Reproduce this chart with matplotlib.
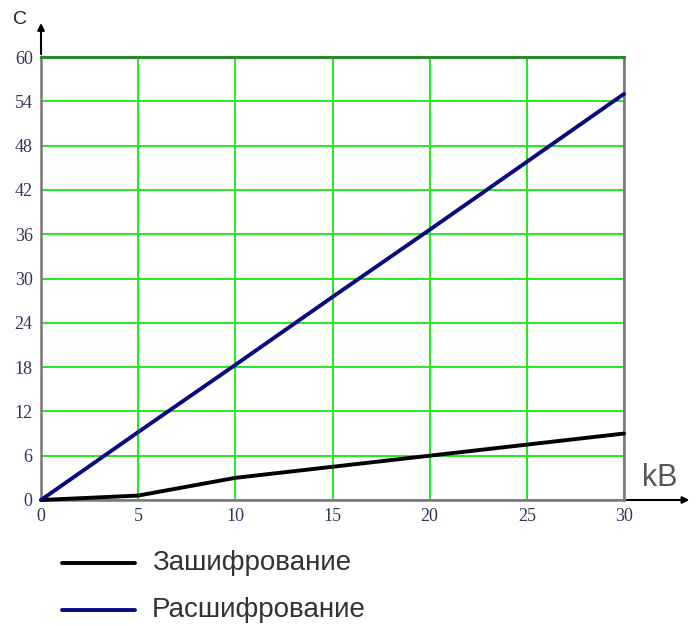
import matplotlib
matplotlib.use("Agg")
import matplotlib.pyplot as plt
from matplotlib.lines import Line2D

# data
size_kb = [0, 5, 10, 15, 20, 25, 30]
encrypt_s = [0, 0.6, 3.0, 4.5, 6.0, 7.5, 9.0]
decrypt_s = [0, 9.2, 18.3, 27.5, 36.6, 45.8, 55.0]
x_ticks = [0, 5, 10, 15, 20, 25, 30]
y_ticks = [0, 6, 12, 18, 24, 30, 36, 42, 48, 54, 60]
labels = ["Зашифрование", "Расшифрование"]

W, H = 696, 626
fig = plt.figure(figsize=(W / 100, H / 100), dpi=100)
ax = fig.add_axes([41 / W, 1 - 500 / H, 583 / W, 443 / H])

grid_c = "#22e822"
tick_c = "#333355"

ax.set_xlim(0, 30)
ax.set_ylim(0, 60)
ax.set_xticks(x_ticks)
ax.set_yticks(y_ticks)
ax.grid(True, color=grid_c, linewidth=1.4)
ax.set_axisbelow(True)
ax.tick_params(length=0, labelsize=13, labelcolor=tick_c, pad=6)
for lab in ax.get_xticklabels() + ax.get_yticklabels():
    lab.set_family("Liberation Serif")

for side in ["left", "bottom", "right"]:
    ax.spines[side].set_color("#777777")
    ax.spines[side].set_linewidth(1.8)
ax.spines["top"].set_color("#2a8a2a")
ax.spines["top"].set_linewidth(2.2)

ax.plot(size_kb, encrypt_s, color="black", linewidth=2.8, solid_capstyle="round", clip_on=False, zorder=3)
ax.plot(size_kb, decrypt_s, color="#0a0a80", linewidth=2.8, solid_capstyle="round", clip_on=False, zorder=3)

# axis arrows
ax.annotate("", xy=(0, 1.083), xytext=(0, 1.0), xycoords="axes fraction",
            arrowprops=dict(arrowstyle="-|>", color="black", lw=1.5, mutation_scale=10))
ax.annotate("", xy=(1.117, 0), xytext=(1.0, 0), xycoords="axes fraction",
            arrowprops=dict(arrowstyle="-|>", color="black", lw=1.5, mutation_scale=10))
fig.text(20 / W, 1 - 20 / H, "C", fontsize=14, family="Liberation Sans", color="#222222",
         ha="center", va="center")
fig.text(660 / W, 1 - 478 / H, "kB", fontsize=22, family="Liberation Sans", color="#555555",
         ha="center", va="center")

# legend drawn below the plot
legend_rows = [(563, "black"), (610, "#0a0a80")]
for (y_px, col), text in zip(legend_rows, labels):
    fig.add_artist(Line2D([62 / W, 135 / W], [1 - y_px / H] * 2, color=col, linewidth=2.8,
                          solid_capstyle="round"))
    fig.text(152 / W, 1 - y_px / H, text, fontsize=20, family="Liberation Sans", color="#333333",
             ha="left", va="center")

fig.savefig("out.png", dpi=100)
